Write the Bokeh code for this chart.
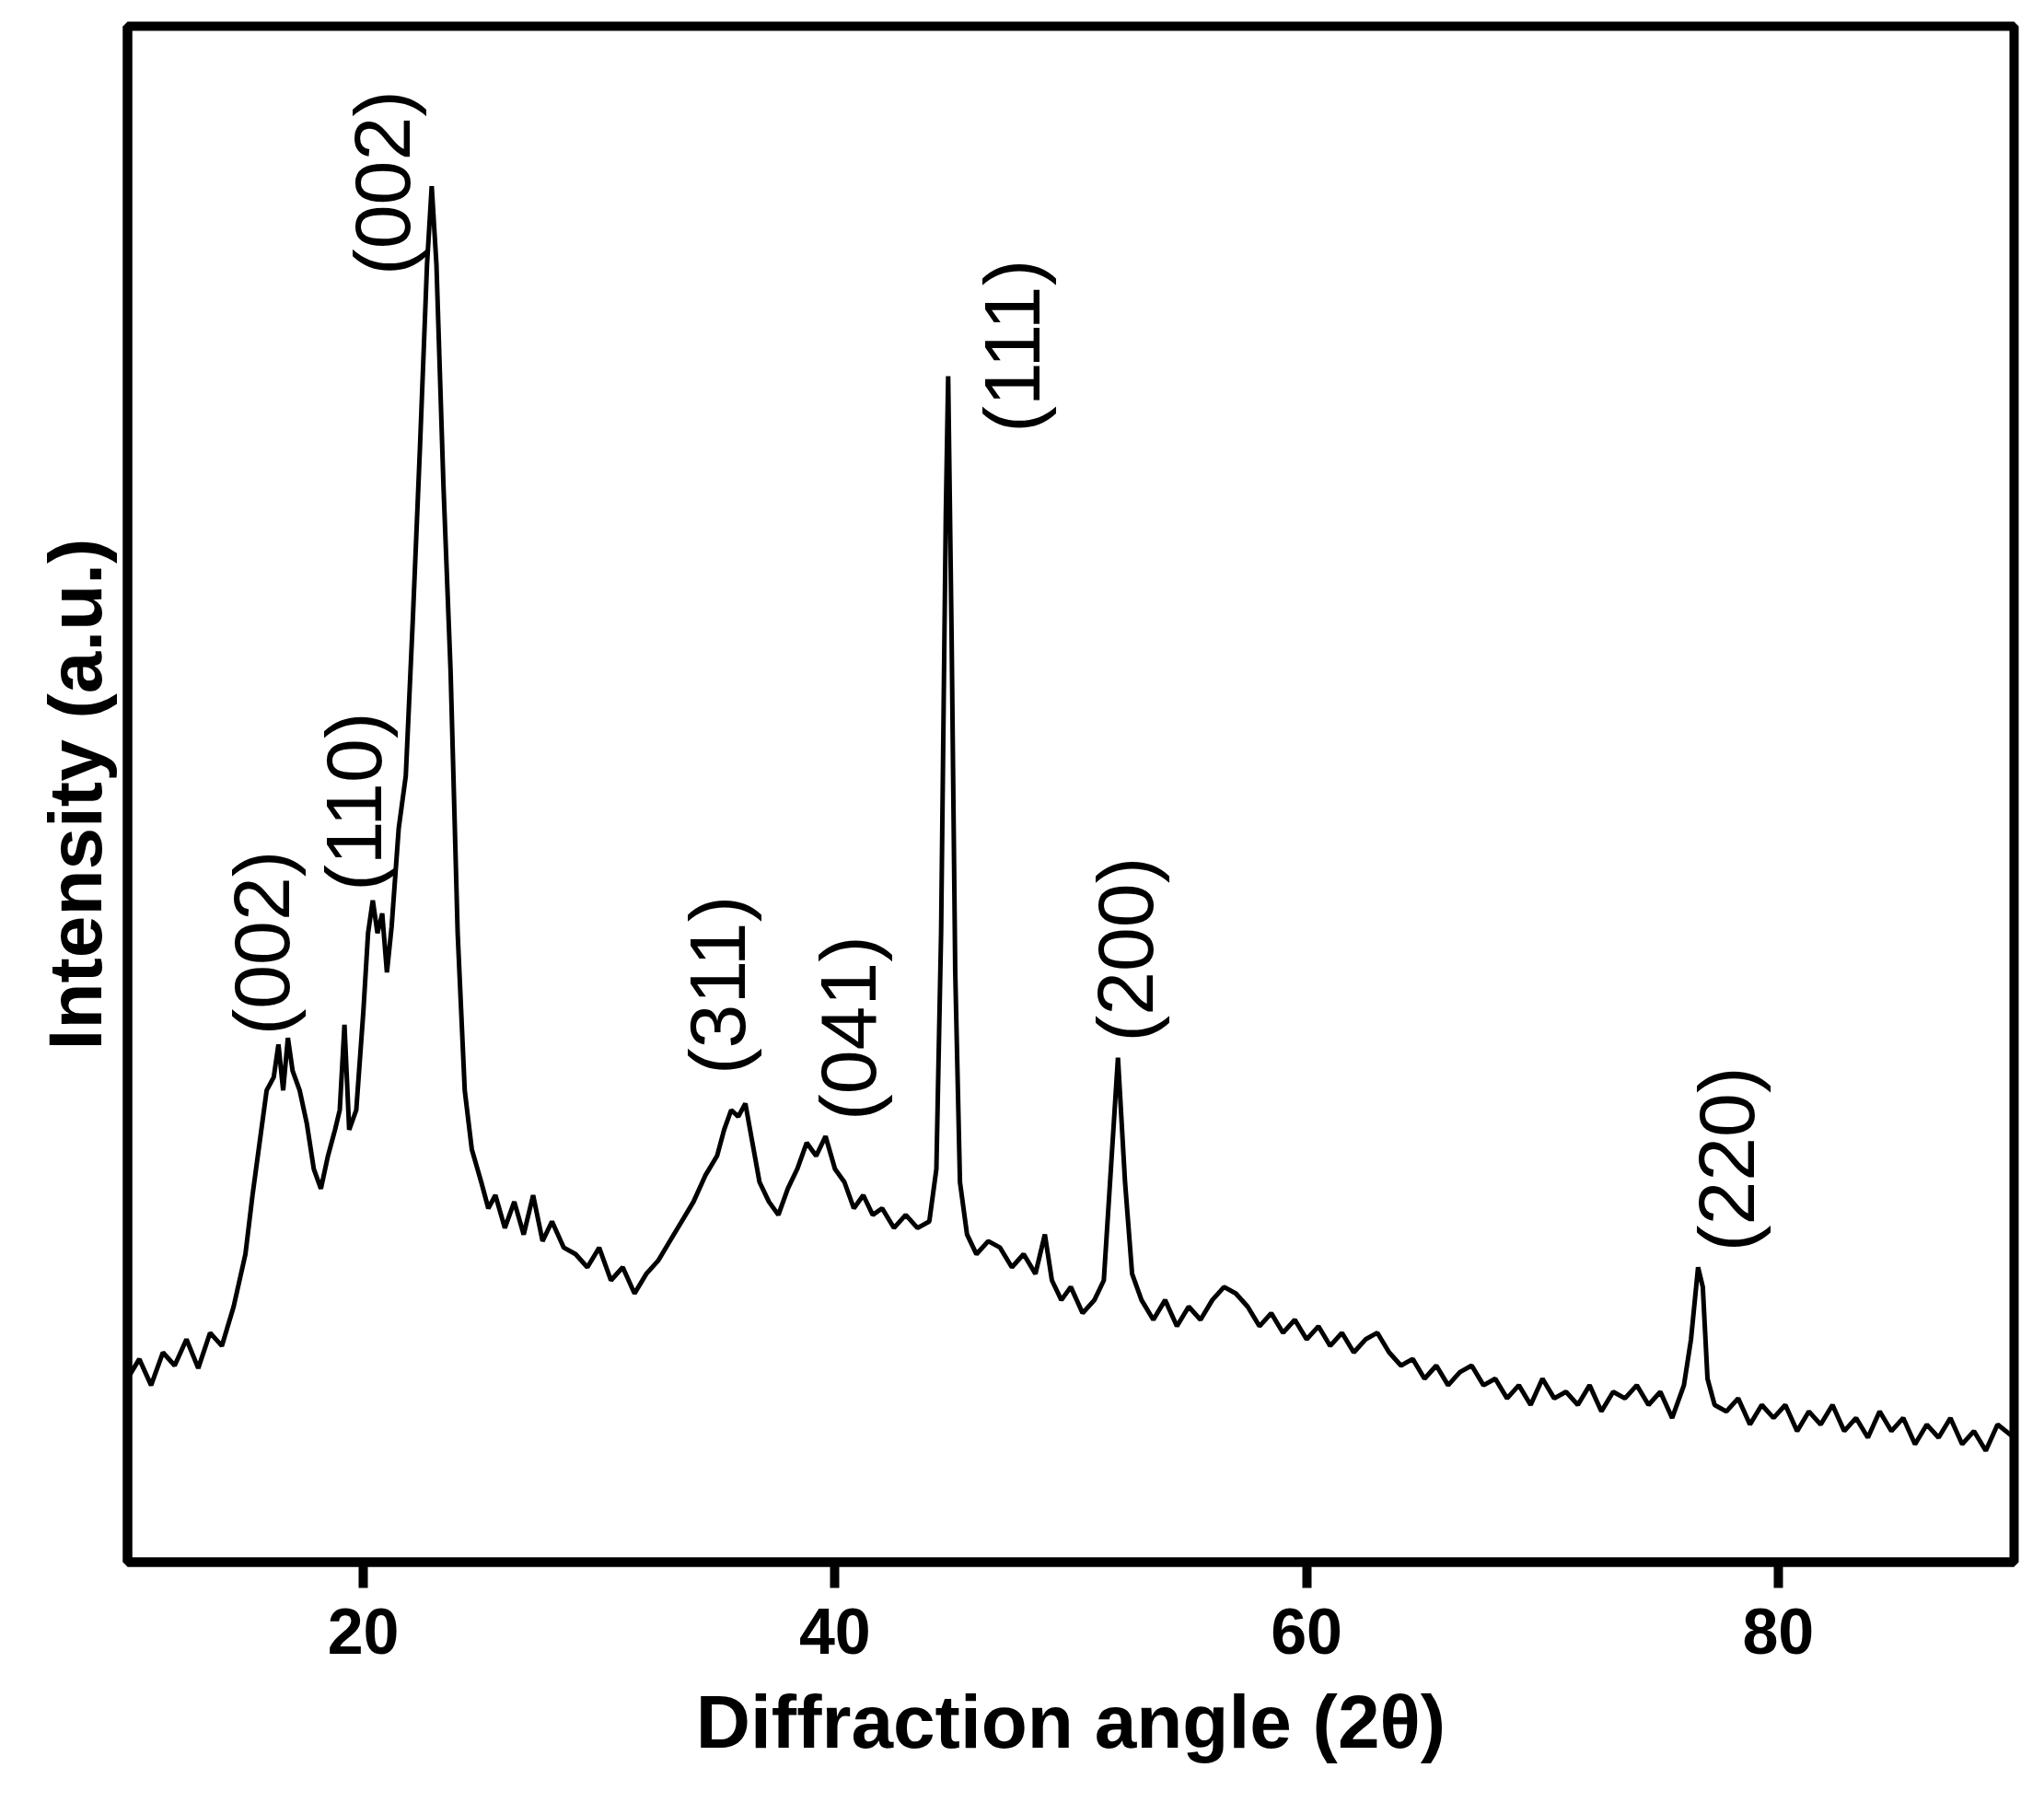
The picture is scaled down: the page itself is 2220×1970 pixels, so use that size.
import numpy as np
from bokeh.plotting import figure
from bokeh.models import FixedTicker, ColumnDataSource
from bokeh.core.properties import value
from bokeh.embed import file_html
from bokeh.resources import INLINE

angle = [10.0,10.5,11.0,11.5,12.0,12.5,13.0,13.5,14.0,14.5,15.0,15.3,15.6,15.9,16.2,16.4,16.6,16.8,17.0,17.3,17.6,17.9,18.2,18.5,18.8,19.0,19.2,19.4,19.7,20.0,20.2,20.4,20.6,20.8,21.0,21.2,21.5,21.8,22.1,22.4,22.7,22.9,23.1,23.4,23.7,24.0,24.3,24.6,25.0,25.3,25.6,26.0,26.4,26.8,27.2,27.6,28.0,28.5,29.0,29.5,30.0,30.5,31.0,31.5,32.0,32.5,33.0,33.5,34.0,34.5,35.0,35.3,35.6,35.9,36.2,36.5,36.8,37.2,37.6,38.0,38.4,38.8,39.2,39.6,40.0,40.4,40.8,41.2,41.6,42.0,42.5,43.0,43.5,44.0,44.3,44.5,44.7,44.8,44.95,45.1,45.3,45.6,46.0,46.5,47.0,47.5,48.0,48.5,48.9,49.2,49.6,50.0,50.5,51.0,51.4,51.7,52.0,52.3,52.6,53.0,53.5,54.0,54.5,55.0,55.5,56.0,56.5,57.0,57.5,58.0,58.5,59.0,59.5,60.0,60.5,61.0,61.5,62.0,62.5,63.0,63.5,64.0,64.5,65.0,65.5,66.0,66.5,67.0,67.5,68.0,68.5,69.0,69.5,70.0,70.5,71.0,71.5,72.0,72.5,73.0,73.5,74.0,74.5,75.0,75.5,76.0,76.3,76.6,76.8,77.0,77.3,77.8,78.3,78.8,79.3,79.8,80.3,80.8,81.3,81.8,82.3,82.8,83.3,83.8,84.3,84.8,85.3,85.8,86.3,86.8,87.3,87.8,88.3,88.8,89.3,90.0]
intensity = [140,155,135,160,150,170,148,175,165,195,235,280,320,360,370,395,360,400,375,360,335,300,285,310,330,345,410,330,345,420,480,505,480,495,450,485,560,600,720,850,990,1050,990,820,680,480,360,315,290,270,280,255,275,250,280,245,260,240,235,225,240,215,225,205,220,230,245,260,275,295,310,330,345,340,350,320,290,275,265,285,300,320,310,325,300,290,270,280,265,270,255,265,255,260,300,480,800,905,700,450,290,250,235,245,240,225,235,220,250,215,200,210,190,200,215,300,385,290,220,200,185,200,180,195,185,200,210,205,195,180,190,175,185,170,180,165,175,160,170,175,160,150,155,140,150,135,145,150,135,140,125,135,120,140,125,130,120,135,115,130,125,135,120,130,110,135,170,225,210,140,120,115,125,105,120,110,120,100,115,105,120,100,110,95,115,100,110,90,105,95,110,90,100,85,105,95]

peak_labels = ["(002)", "(110)", "(002)", "(311)", "(041)", "(111)", "(200)", "(220)"]
label_x = [15.7, 19.6, 20.8, 35.0, 40.55, 47.5, 52.3, 77.8]
label_y = [402, 512, 982, 372, 337, 862, 397, 237]

FONT = "Liberation Sans"
p = figure(width=2200, height=1950, x_range=(10, 90), y_range=(0, 1172),
           output_backend="svg", toolbar_location=None,
           min_border_left=138, min_border_top=28, min_border_right=13, min_border_bottom=254)
p.grid.visible = False
p.outline_line_color = "black"
p.outline_line_width = 10

p.line(angle, intensity, line_color="black", line_width=5)

src = ColumnDataSource(dict(x=label_x, y=label_y, t=peak_labels))
p.text(x="x", y="y", text="t", source=src, angle=np.pi/2, text_align="left",
       text_baseline="middle", text_font=value(FONT), text_font_size="86px", text_color="black")

p.xaxis.ticker = FixedTicker(ticks=[20, 40, 60, 80])
p.xaxis.major_label_text_font = FONT
p.xaxis.major_label_text_font_style = "bold"
p.xaxis.major_label_text_font_size = "70px"
p.xaxis.major_label_text_color = "black"
p.xaxis.major_label_standoff = 22
p.xaxis.major_tick_line_width = 10
p.xaxis.major_tick_out = 28
p.xaxis.major_tick_in = 0
p.xaxis.minor_tick_line_color = None
p.xaxis.axis_line_width = 10
p.xaxis.axis_label = "Diffraction angle (2θ)"
p.xaxis.axis_label_text_font = FONT
p.xaxis.axis_label_text_font_style = "bold"
p.xaxis.axis_label_text_font_size = "82px"
p.xaxis.axis_label_text_color = "black"
p.xaxis.axis_label_standoff = 25

p.yaxis.ticker = FixedTicker(ticks=[])
p.yaxis.minor_tick_line_color = None
p.yaxis.axis_line_width = 10
p.yaxis.axis_label = "Intensity (a.u.)"
p.yaxis.axis_label_text_font = FONT
p.yaxis.axis_label_text_font_style = "bold"
p.yaxis.axis_label_text_font_size = "82px"
p.yaxis.axis_label_text_color = "black"
p.yaxis.axis_label_standoff = 12

open("out.html", "w").write(file_html(p, INLINE))
